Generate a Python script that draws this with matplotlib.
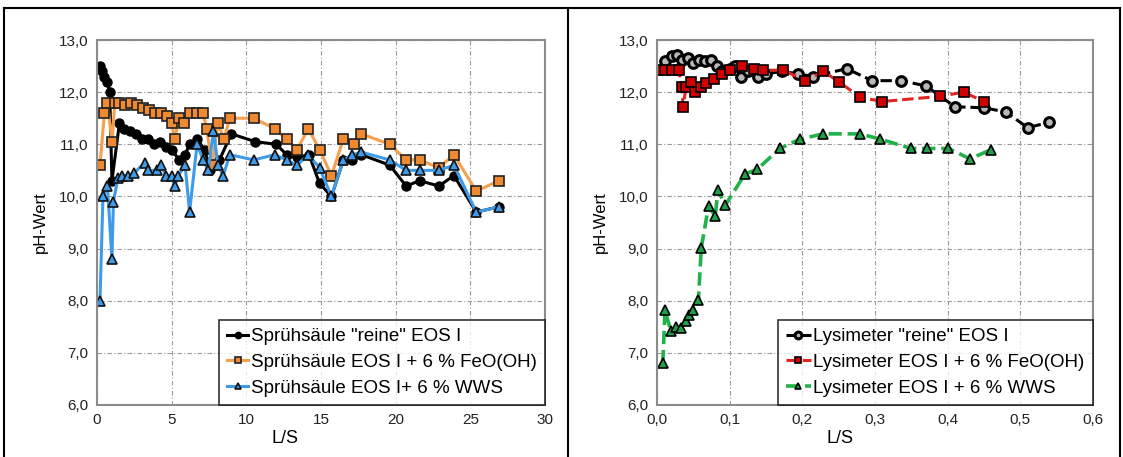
import matplotlib
matplotlib.use("Agg")
import matplotlib.pyplot as plt
from matplotlib.ticker import FuncFormatter, MultipleLocator
from matplotlib.lines import Line2D

plt.rcParams['font.family'] = ['Liberation Sans', 'DejaVu Sans']

# Spruehsaeule (links)
sp_rein_x = [0.2, 0.35, 0.5, 0.7, 0.85, 1.0, 1.5, 1.8, 2.2, 2.6, 3.0, 3.4, 3.8, 4.2, 4.6, 5.0, 5.5,
             5.9, 6.2, 6.7, 7.2, 7.6, 8.2, 9.0, 10.6, 12.0, 12.7, 13.4, 14.2, 14.9, 15.7, 16.5,
             17.1, 17.7, 19.6, 20.7, 21.6, 22.9, 23.9, 25.4, 26.9]
sp_rein_y = [12.5, 12.4, 12.3, 12.2, 12.0, 10.3, 11.4, 11.3, 11.25, 11.2, 11.1, 11.1, 11.0, 11.05,
             10.95, 10.9, 10.7, 10.8, 11.0, 11.1, 10.9, 10.5, 10.7, 11.2, 11.05, 11.0, 10.8, 10.75,
             10.8, 10.25, 10.0, 10.7, 10.7, 10.8, 10.6, 10.2, 10.3, 10.2, 10.4, 9.7, 9.8]

sp_fe_x = [0.2, 0.5, 0.7, 1.0, 1.2, 1.5, 1.9, 2.3, 2.7, 3.1, 3.5, 3.9, 4.3, 4.7, 5.0, 5.2, 5.5,
           5.8, 6.2, 6.7, 7.1, 7.35, 7.7, 8.1, 8.5, 8.9, 10.5, 11.9, 12.7, 13.4, 14.15, 14.9,
           15.7, 16.5, 17.2, 17.7, 19.6, 20.7, 21.6, 22.9, 23.9, 25.4, 26.9]
sp_fe_y = [10.6, 11.6, 11.8, 11.05, 11.8, 11.8, 11.75, 11.8, 11.75, 11.7, 11.65, 11.6, 11.6, 11.55,
           11.4, 11.1, 11.5, 11.4, 11.6, 11.6, 11.6, 11.3, 10.6, 11.4, 11.1, 11.5, 11.5, 11.3,
           11.1, 10.9, 11.3, 10.9, 10.4, 11.1, 11.0, 11.2, 11.0, 10.7, 10.7, 10.55, 10.8, 10.1, 10.3]

sp_wws_x = [0.2, 0.4, 0.7, 1.0, 1.1, 1.4, 1.7, 2.1, 2.5, 3.2, 3.4, 4.0, 4.3, 4.6, 5.0, 5.2, 5.45,
            5.9, 6.2, 6.7, 7.1, 7.45, 7.8, 8.1, 8.45, 8.9, 10.5, 11.9, 12.7, 13.4, 14.15, 14.9,
            15.7, 16.5, 17.1, 17.7, 19.6, 20.7, 21.6, 22.9, 23.9, 25.4, 26.9]
sp_wws_y = [8.0, 10.0, 10.2, 8.8, 9.9, 10.35, 10.4, 10.4, 10.45, 10.65, 10.5, 10.5, 10.6, 10.4,
            10.4, 10.2, 10.4, 10.6, 9.7, 11.0, 10.7, 10.5, 11.25, 10.6, 10.4, 10.8, 10.7, 10.8,
            10.7, 10.6, 10.8, 10.55, 10.0, 10.7, 10.8, 10.85, 10.7, 10.5, 10.5, 10.5, 10.6, 9.7, 9.8]

# Lysimeter (rechts)
ly_rein_x = [0.011, 0.02, 0.027, 0.035, 0.043, 0.05, 0.058, 0.066, 0.074, 0.082, 0.09, 0.1, 0.108,
             0.115, 0.125, 0.139, 0.15, 0.172, 0.194, 0.215, 0.261, 0.296, 0.336, 0.37, 0.41,
             0.45, 0.48, 0.51, 0.54]
ly_rein_y = [12.6, 12.7, 12.72, 12.62, 12.65, 12.55, 12.62, 12.6, 12.62, 12.5, 12.4, 12.45, 12.5,
             12.3, 12.4, 12.3, 12.35, 12.4, 12.35, 12.3, 12.45, 12.22, 12.22, 12.12, 11.72, 11.7,
             11.62, 11.32, 11.42]

ly_fe_x = [0.002, 0.011, 0.02, 0.03, 0.034, 0.036, 0.04, 0.047, 0.052, 0.06, 0.068, 0.078, 0.089,
           0.1, 0.117, 0.133, 0.146, 0.174, 0.204, 0.229, 0.25, 0.28, 0.31, 0.39, 0.422, 0.45]
ly_fe_y = [12.42, 12.42, 12.42, 12.42, 12.1, 11.72, 12.1, 12.2, 12.0, 12.1, 12.17, 12.25, 12.35,
           12.42, 12.5, 12.45, 12.42, 12.42, 12.22, 12.4, 12.2, 11.9, 11.82, 11.92, 12.0, 11.82]

ly_wws_x = [0.008, 0.011, 0.019, 0.026, 0.033, 0.04, 0.044, 0.05, 0.057, 0.061, 0.071, 0.08, 0.084,
            0.094, 0.121, 0.138, 0.169, 0.197, 0.229, 0.279, 0.307, 0.35, 0.371, 0.401, 0.431, 0.46]
ly_wws_y = [6.8, 7.82, 7.42, 7.5, 7.48, 7.62, 7.72, 7.82, 8.02, 9.02, 9.82, 9.62, 10.12, 9.83,
            10.43, 10.52, 10.92, 11.1, 11.2, 11.2, 11.1, 10.92, 10.92, 10.92, 10.72, 10.9]

W, H = 1123, 457
fig = plt.figure(figsize=(W / 100, H / 100), dpi=100)

# Rahmen um beide Diagramme
rahmen = [((4, 4), (8, 457)), ((4, 1120), (8, 8)), ((568, 568), (8, 457)), ((1120, 1120), (8, 457))]
for xs, ys in rahmen:
    fig.add_artist(Line2D([x / W for x in xs], [1 - y / H for y in ys], color='black', lw=1.5))

komma = FuncFormatter(lambda v, p: f"{v:.1f}".replace('.', ','))


def achse_stil(ax):
    ax.set_ylim(6, 13)
    ax.yaxis.set_major_locator(MultipleLocator(1))
    ax.yaxis.set_major_formatter(komma)
    ax.grid(True, color='#9a9a9a', linestyle=(0, (4, 2, 1, 2)), lw=0.8)
    ax.set_axisbelow(True)
    for s in ax.spines.values():
        s.set_color('#8c8c8c')
        s.set_linewidth(1.5)
    ax.tick_params(length=0, labelsize=11, pad=6, colors='#222222')
    ax.set_ylabel('pH-Wert', fontsize=12, labelpad=8)
    ax.set_xlabel('L/S', fontsize=13)
    ax.xaxis.set_label_coords(0.42, -0.068)


# linkes Diagramm
ax1 = fig.add_axes([97 / W, 1 - 405 / H, 448 / W, 365 / H])
ax1.plot(sp_rein_x, sp_rein_y, color='black', lw=2.2, marker='o', ms=6.5,
         mfc='black', mec='black', label='Sprühsäule "reine" EOS I')
ax1.plot(sp_fe_x, sp_fe_y, color='#F5A04E', lw=2.2, marker='s', ms=6.5,
         mfc='#F08A30', mec='#222222', mew=1.2, label='Sprühsäule EOS I + 6 % FeO(OH)')
ax1.plot(sp_wws_x, sp_wws_y, color='#3D9BEA', lw=2.2, marker='^', ms=6.5,
         mfc='#3D9BEA', mec='#111111', mew=1.2, label='Sprühsäule EOS I+ 6 % WWS')
ax1.set_xlim(0, 30)
ax1.xaxis.set_major_locator(MultipleLocator(5))
achse_stil(ax1)
leg1 = ax1.legend(loc='lower right', fontsize=13.5, frameon=True, fancybox=False,
                  edgecolor='black', borderaxespad=0, handlelength=1.1, handletextpad=0.15,
                  labelspacing=0.45, borderpad=0.45, markerscale=0.7)
leg1.get_frame().set_linewidth(1.2)

# rechtes Diagramm
ax2 = fig.add_axes([657 / W, 1 - 405 / H, 436 / W, 365 / H])
ax2.plot(ly_rein_x, ly_rein_y, color='black', lw=2.2, ls='--', marker='o', ms=7,
         mfc='#b8b8b8', mec='black', mew=2.2, label='Lysimeter "reine" EOS I')
ax2.plot(ly_fe_x, ly_fe_y, color='#E02424', lw=2.2, ls='--', marker='s', ms=6.5,
         mfc='#D00000', mec='black', mew=1.2, label='Lysimeter EOS I + 6 % FeO(OH)')
ax2.plot(ly_wws_x, ly_wws_y, color='#22B24C', lw=2.6, ls='--', marker='^', ms=7,
         mfc='#1EA048', mec='black', mew=1.2, label='Lysimeter EOS I + 6 % WWS')
ax2.set_xlim(0, 0.6)
ax2.xaxis.set_major_locator(MultipleLocator(0.1))
ax2.xaxis.set_major_formatter(komma)
achse_stil(ax2)
leg2 = ax2.legend(loc='lower right', fontsize=13.5, frameon=True, fancybox=False,
                  edgecolor='black', borderaxespad=0, handlelength=1.3, handletextpad=0.15,
                  labelspacing=0.45, borderpad=0.45, markerscale=0.7)
leg2.get_frame().set_linewidth(1.2)

fig.savefig('out.png', dpi=100)
